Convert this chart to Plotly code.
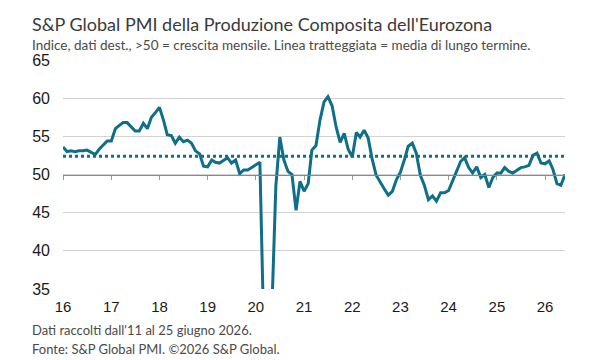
import plotly.graph_objects as go
import pandas as pd

# Monthly Eurozone Composite PMI Output Index, Jan 2016 - Jun 2026
pmi_2016 = [53.6, 53.0, 53.1, 53.0, 53.1, 53.1, 53.2, 52.9, 52.6, 53.3, 53.9, 54.4]
pmi_2017 = [54.4, 56.0, 56.4, 56.8, 56.8, 56.3, 55.7, 55.7, 56.7, 56.0, 57.5, 58.1]
pmi_2018 = [58.8, 57.1, 55.2, 55.1, 54.1, 54.9, 54.3, 54.5, 54.1, 53.1, 52.7, 51.1]
pmi_2019 = [51.0, 51.9, 51.6, 51.5, 51.8, 52.2, 51.5, 51.9, 50.1, 50.6, 50.6, 50.9]
pmi_2020 = [51.3, 51.6, 29.7, 13.6, 31.9, 48.5, 54.9, 51.9, 50.4, 50.0, 45.3, 49.1]
pmi_2021 = [47.8, 48.8, 53.2, 53.8, 57.1, 59.5, 60.2, 59.0, 56.2, 54.2, 55.4, 53.3]
pmi_2022 = [52.3, 55.5, 54.9, 55.8, 54.8, 52.0, 49.9, 48.9, 48.1, 47.3, 47.8, 49.3]
pmi_2023 = [50.3, 52.0, 53.7, 54.1, 52.8, 49.9, 48.6, 46.7, 47.2, 46.5, 47.6, 47.6]
pmi_2024 = [47.9, 49.2, 50.3, 51.7, 52.2, 50.9, 50.2, 51.0, 49.6, 50.0, 48.3, 49.6]
pmi_2025 = [50.2, 50.2, 50.9, 50.4, 50.2, 50.6, 50.9, 51.0, 51.2, 52.5, 52.8, 51.5]
pmi_2026 = [51.4, 51.8, 50.7, 48.8, 48.6, 50.0]

long_term_avg = 52.4

year_ticks = ["2016-01-01", "2017-01-01", "2018-01-01", "2019-01-01", "2020-01-01",
              "2021-01-01", "2022-01-01", "2023-01-01", "2024-01-01", "2025-01-01",
              "2026-01-01"]
year_labels = ["16", "17", "18", "19", "20", "21", "22", "23", "24", "25", "26"]
y_ticks = [35, 40, 45, 50, 55, 60, 65]

values = (pmi_2016 + pmi_2017 + pmi_2018 + pmi_2019 + pmi_2020 + pmi_2021 +
          pmi_2022 + pmi_2023 + pmi_2024 + pmi_2025 + pmi_2026)
dates = pd.date_range("2016-01-01", periods=len(values), freq="MS")

x_range = [dates[0], dates[-1]]
TEAL = "#0f6f88"

fig = go.Figure()
fig.add_trace(go.Scatter(
    x=[dates[0], dates[-1]], y=[long_term_avg, long_term_avg],
    mode="lines", line=dict(color=TEAL, width=3, dash="dot"),
    xaxis="x2", yaxis="y", hoverinfo="skip", showlegend=False))
fig.add_trace(go.Scatter(
    x=dates, y=values, mode="lines",
    line=dict(color=TEAL, width=3), showlegend=False))

fig.update_layout(
    width=600, height=360,
    margin=dict(l=63, r=35, t=60, b=71),
    paper_bgcolor="white", plot_bgcolor="white",
    xaxis=dict(range=x_range, tickvals=year_ticks, ticktext=year_labels,
               showgrid=False, zeroline=False, showline=False, ticks="",
               ticklabelstandoff=7,
               tickfont=dict(family="Liberation Sans, Arial", size=15, color="#1a1a1a")),
    xaxis2=dict(range=x_range, overlaying="x", anchor="free", position=0.5,
                side="bottom", tickvals=year_ticks, showticklabels=False,
                ticks="outside", ticklen=4, tickcolor="#999999", tickwidth=1,
                showline=True, linecolor="#888888", linewidth=1,
                showgrid=False, zeroline=False),
    yaxis=dict(range=[35, 65], tickvals=y_ticks, showgrid=True,
               gridcolor="#d3d3d3", gridwidth=1, zeroline=False, showline=False,
               ticks="", ticklabelstandoff=12,
               tickfont=dict(family="Liberation Sans, Arial", size=16, color="#1a1a1a")),
)

TXT = "Lato, Roboto, sans-serif"
def note(text, ypix, size, color):
    fig.add_annotation(text=text, xref="paper", yref="paper",
                       x=(30 - 63) / 502, y=(289 - ypix) / 229,
                       xanchor="left", yanchor="middle", showarrow=False,
                       font=dict(family=TXT, size=size, color=color))

note("S&P Global PMI della Produzione Composita dell'Eurozona", 24, 18, "#3a3a3a")
note("Indice, dati dest., >50 = crescita mensile. Linea tratteggiata = media di lungo termine.", 45, 13.5, "#4a4a4a")
note("Dati raccolti dall'11 al 25 giugno 2026.", 330, 13, "#4a4a4a")
note("Fonte: S&P Global PMI. ©2026 S&P Global.", 349, 13, "#4a4a4a")

fig.write_html("out.html")
